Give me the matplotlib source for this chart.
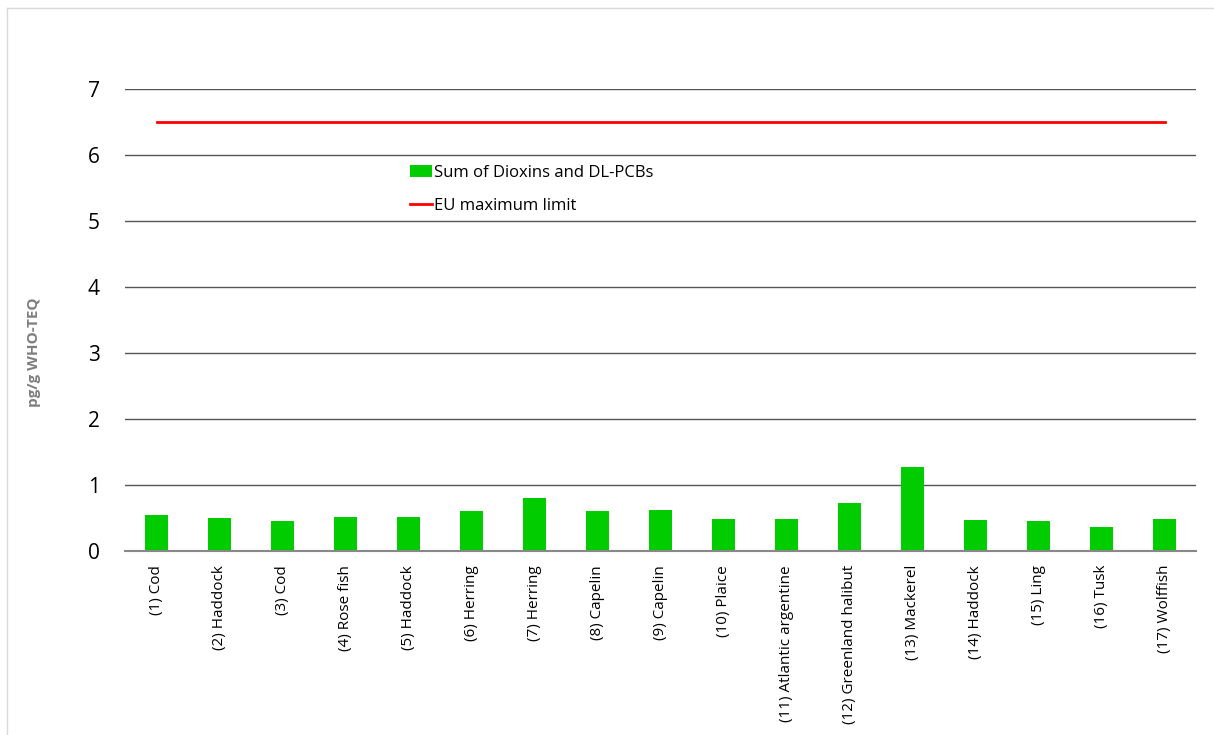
import matplotlib.pyplot as plt
from matplotlib.lines import Line2D

# Data
species = ['(1) Cod', '(2) Haddock', '(3) Cod', '(4) Rose fish', '(5) Haddock',
           '(6) Herring', '(7) Herring', '(8) Capelin', '(9) Capelin', '(10) Plaice',
           '(11) Atlantic argentine', '(12) Greenland halibut', '(13) Mackerel',
           '(14) Haddock', '(15) Ling', '(16) Tusk', '(17) Wolffish']
dioxins = [0.54, 0.50, 0.46, 0.51, 0.51, 0.61, 0.81, 0.61, 0.62, 0.49,
           0.48, 0.72, 1.28, 0.47, 0.46, 0.37, 0.49]
eu_limit = [6.5] * len(species)
y_ticks = [0, 1, 2, 3, 4, 5, 6, 7]

plt.rcParams['font.family'] = ['Open Sans', 'DejaVu Sans']

fig = plt.figure(figsize=(12.14, 7.35), dpi=100)
ax = fig.add_axes([125 / 1214, 1 - 551 / 735, 1071 / 1214, 462 / 735])

x = list(range(len(species)))
ax.set_axisbelow(True)
bars = ax.bar(x, dioxins, width=0.35, color='#00cc00', label='Sum of Dioxins and DL-PCBs', zorder=2)
line, = ax.plot(x, eu_limit, color='#ff0000', linewidth=2, label='EU maximum limit', zorder=3)

ax.set_xlim(-0.5, len(species) - 0.5)
ax.set_ylim(0, 7)
ax.set_yticks(y_ticks)
ax.set_yticklabels([str(t) for t in y_ticks], fontsize=15)
ax.set_xticks(x)
ax.set_xticklabels(species, rotation=90, fontsize=11)
ax.tick_params(axis='y', length=0, pad=18)
ax.tick_params(axis='x', length=0, pad=10)

ax.yaxis.grid(True, color='#555555', linewidth=1)
for s in ['top', 'right', 'left']:
    ax.spines[s].set_visible(False)
ax.spines['bottom'].set_color('#888888')
ax.spines['bottom'].set_linewidth(1.5)

ax.set_ylabel('pg/g WHO-TEQ', fontsize=11, fontweight='bold', color='#7f7f7f')
ax.yaxis.set_label_coords(-0.078, 0.43)

leg = ax.legend([bars, line], ['Sum of Dioxins and DL-PCBs', 'EU maximum limit'],
                loc='upper left', bbox_to_anchor=(0.252, 0.868), frameon=False,
                fontsize=12, handlelength=1.3, handletextpad=0.15, labelspacing=1.0)

# outer chart border
fig.add_artist(Line2D([7 / 1214, 1], [1 - 8 / 735, 1 - 8 / 735], color='#d9d9d9', linewidth=1))
fig.add_artist(Line2D([7 / 1214, 7 / 1214], [0, 1 - 8 / 735], color='#d9d9d9', linewidth=1))

fig.savefig('out.png', dpi=100)
